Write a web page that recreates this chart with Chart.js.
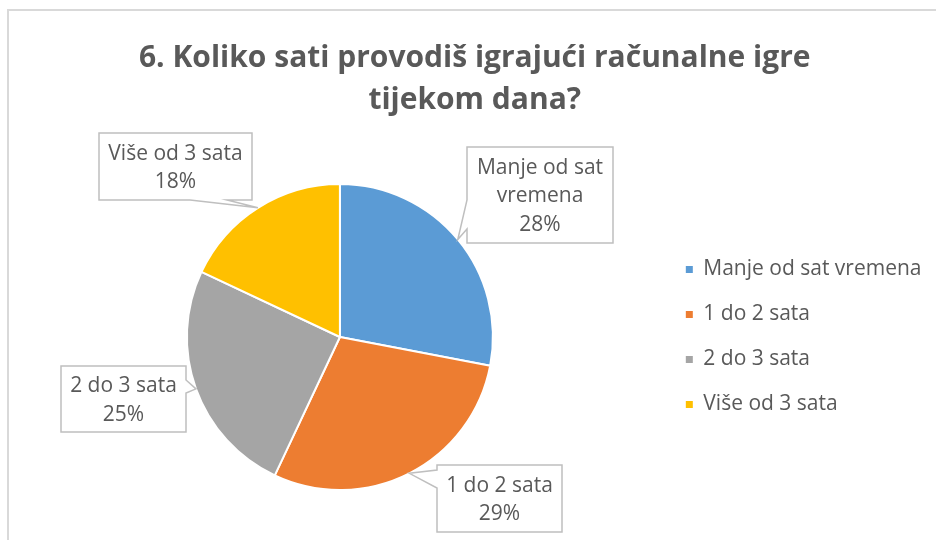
<!DOCTYPE html>
<html>
<head>
<meta charset="utf-8">
<title>Koliko sati provodiš igrajući računalne igre</title>
<script src="https://cdn.jsdelivr.net/npm/chart.js@4/dist/chart.umd.min.js"></script>
<style>
  html, body { margin: 0; padding: 0; background: #fff; }
  canvas { display: block; }
</style>
</head>
<body>
<canvas id="pieChart" width="936" height="540"></canvas>
<script>
// ---------- podaci ----------
const titleLines = ['6. Koliko sati provodiš igrajući računalne igre', 'tijekom dana?'];
const categories = ['Manje od sat vremena', '1 do 2 sata', '2 do 3 sata', 'Više od 3 sata'];
const shares = [28, 29, 25, 18];
const sliceColors = ['#5B9BD5', '#ED7D31', '#A5A5A5', '#FFC000'];

const TEXT_COLOR = '#595959';
const FONT = '"Open Sans", Lato, sans-serif';

// kućice s oznakama (x, y, w, h) i gdje je "kljun" prema kriški
const calloutBoxes = [
  { x: 467, y: 147, w: 146, h: 96, side: 'left',   a: 53, b: 82 },
  { x: 437, y: 465, w: 125, h: 67, side: 'left',   a: 5,  b: 23 },
  { x: 61,  y: 366, w: 125, h: 66, side: 'right',  a: 14, b: 27 },
  { x: 99,  y: 133, w: 153, h: 67, side: 'bottom', a: 91, b: 128 }
];

// ---------- okvir grafa ----------
const framePlugin = {
  id: 'frame',
  beforeDraw(chart) {
    const ctx = chart.ctx;
    ctx.save();
    ctx.fillStyle = '#fff';
    ctx.fillRect(0, 0, chart.width, chart.height);
    ctx.strokeStyle = '#d9d9d9';
    ctx.lineWidth = 2;
    ctx.beginPath();
    ctx.moveTo(8, chart.height + 5);
    ctx.lineTo(8, 10);
    ctx.lineTo(chart.width + 5, 10);
    ctx.stroke();
    ctx.restore();
  }
};

function wrapText(ctx, text, maxWidth) {
  const words = text.split(' ');
  const lines = [];
  let line = '';
  words.forEach(w => {
    const test = line ? line + ' ' + w : w;
    if (line && ctx.measureText(test).width > maxWidth) {
      lines.push(line);
      line = w;
    } else {
      line = test;
    }
  });
  if (line) lines.push(line);
  return lines;
}

// ---------- oznake s kljunom ----------
const calloutPlugin = {
  id: 'callouts',
  afterDatasetsDraw(chart) {
    const ctx = chart.ctx;
    const meta = chart.getDatasetMeta(0);
    const data = chart.data.datasets[0].data;
    const total = data.reduce((s, v) => s + v, 0);

    ctx.save();
    ctx.font = '21px ' + FONT;
    meta.data.forEach((arc, i) => {
      const box = calloutBoxes[i];
      if (!box) return;
      const p = arc.getProps(['x', 'y', 'startAngle', 'endAngle', 'outerRadius'], true);
      const mid = (p.startAngle + p.endAngle) / 2;
      const tipX = p.x + p.outerRadius * Math.cos(mid);
      const tipY = p.y + p.outerRadius * Math.sin(mid);

      const { x, y, w, h } = box;
      ctx.beginPath();
      ctx.moveTo(x, y);
      ctx.lineTo(x + w, y);
      if (box.side === 'right') {
        ctx.lineTo(x + w, y + box.a);
        ctx.lineTo(tipX, tipY);
        ctx.lineTo(x + w, y + box.b);
      }
      ctx.lineTo(x + w, y + h);
      if (box.side === 'bottom') {
        ctx.lineTo(x + box.b, y + h);
        ctx.lineTo(tipX, tipY);
        ctx.lineTo(x + box.a, y + h);
      }
      ctx.lineTo(x, y + h);
      if (box.side === 'left') {
        ctx.lineTo(x, y + box.b);
        ctx.lineTo(tipX, tipY);
        ctx.lineTo(x, y + box.a);
      }
      ctx.closePath();
      ctx.fillStyle = '#fff';
      ctx.fill();
      ctx.strokeStyle = '#bfbfbf';
      ctx.lineWidth = 1.5;
      ctx.stroke();

      const lines = wrapText(ctx, chart.data.labels[i], w - 8);
      lines.push(Math.round(data[i] / total * 100) + '%');
      const lh = 28.5;
      const cy = y + h / 2 + 1.5;
      ctx.fillStyle = TEXT_COLOR;
      ctx.textAlign = 'center';
      ctx.textBaseline = 'middle';
      lines.forEach((t, k) => {
        ctx.fillText(t, x + w / 2, cy + (k - (lines.length - 1) / 2) * lh);
      });
    });
    ctx.restore();
  }
};

const pieChart = new Chart(document.getElementById('pieChart'), {
  type: 'pie',
  data: {
    labels: categories,
    datasets: [{
      data: shares,
      backgroundColor: sliceColors,
      borderColor: '#fff',
      borderWidth: 2
    }]
  },
  options: {
    responsive: false,
    animation: false,
    layout: { padding: { left: 18, right: 4.5, top: 0, bottom: 49 } },
    plugins: {
      title: {
        display: true,
        text: titleLines,
        color: TEXT_COLOR,
        font: { family: FONT, size: 30, weight: 'bold', lineHeight: 1.4 },
        padding: { top: 37, bottom: 62 }
      },
      legend: {
        position: 'right',
        align: 'center',
        fullSize: false,
        labels: {
          color: TEXT_COLOR,
          font: { family: FONT, size: 21 },
          boxWidth: 7,
          boxHeight: 7,
          padding: 24,
          generateLabels(chart) {
            const items = Chart.overrides.pie.plugins.legend.labels.generateLabels(chart);
            return items.map(it => Object.assign(it, { lineWidth: 0, strokeStyle: it.fillStyle }));
          }
        }
      },
      tooltip: { enabled: false }
    }
  },
  plugins: [framePlugin, calloutPlugin]
});
</script>
</body>
</html>
